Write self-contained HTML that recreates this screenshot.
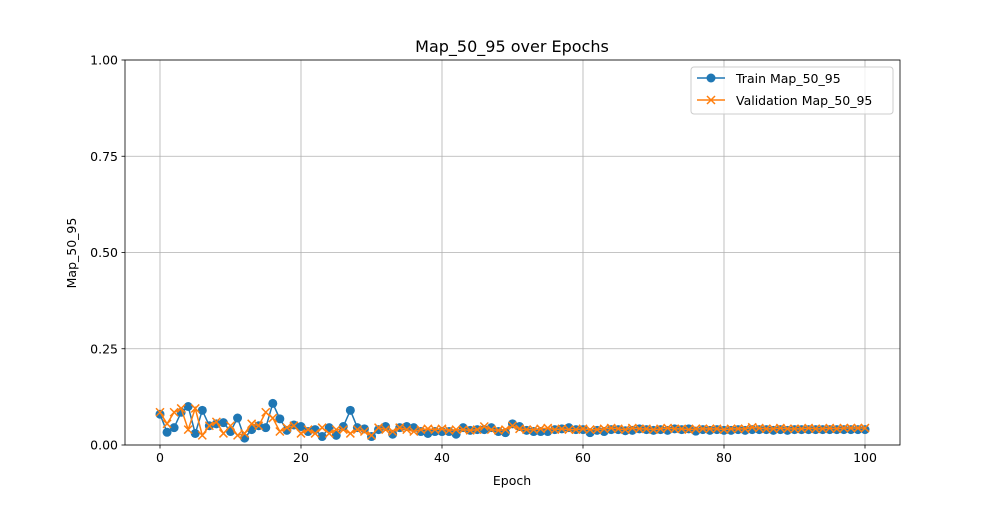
<!DOCTYPE html>
<html><head><meta charset="utf-8"><style>
body{margin:0;background:#fff;font-family:"Liberation Sans","DejaVu Sans",sans-serif;}
svg text{font-family:"DejaVu Sans","Liberation Sans",sans-serif;}
</style></head><body>
<svg id="chart" width="1000" height="500" xmlns="http://www.w3.org/2000/svg"></svg>
<script>
const epochs = Array.from({length:101},(_,i)=>i);
const trainMap = [0.080,0.033,0.045,0.085,0.100,0.030,0.090,0.050,0.055,0.058,0.035,0.070,0.018,0.040,0.050,0.045,0.108,0.068,0.038,0.052,0.048,0.035,0.040,0.022,0.045,0.025,0.048,0.090,0.045,0.042,0.022,0.040,0.048,0.028,0.045,0.048,0.045,0.035,0.030,0.035,0.035,0.035,0.028,0.045,0.038,0.040,0.040,0.045,0.035,0.032,0.055,0.048,0.038,0.035,0.035,0.035,0.040,0.042,0.045,0.040,0.040,0.032,0.038,0.035,0.040,0.040,0.037,0.038,0.042,0.040,0.038,0.040,0.038,0.042,0.040,0.042,0.036,0.040,0.038,0.040,0.038,0.038,0.040,0.038,0.040,0.040,0.040,0.038,0.040,0.038,0.040,0.040,0.040,0.040,0.040,0.040,0.040,0.040,0.040,0.040,0.040];
const valMap = [0.085,0.055,0.085,0.095,0.040,0.095,0.025,0.050,0.060,0.030,0.050,0.025,0.030,0.055,0.050,0.085,0.070,0.035,0.045,0.050,0.030,0.040,0.030,0.045,0.030,0.040,0.040,0.030,0.040,0.035,0.025,0.045,0.040,0.035,0.045,0.040,0.035,0.040,0.042,0.040,0.042,0.038,0.040,0.040,0.038,0.040,0.048,0.040,0.038,0.040,0.050,0.042,0.040,0.040,0.042,0.044,0.040,0.042,0.040,0.040,0.042,0.040,0.040,0.042,0.044,0.042,0.040,0.044,0.042,0.042,0.040,0.042,0.044,0.042,0.042,0.040,0.042,0.042,0.042,0.042,0.040,0.042,0.042,0.042,0.046,0.044,0.042,0.042,0.044,0.042,0.042,0.042,0.044,0.042,0.042,0.044,0.042,0.044,0.044,0.044,0.044];
const xTicks = [0,20,40,60,80,100];
const yTicks = [0,0.25,0.5,0.75,1.0];
const yTickLabels = ["0.00","0.25","0.50","0.75","1.00"];

const L=125,R=900,T=60,B=445;
const sx=v=>160+(v-0)*(865-160)/100;
const sy=v=>B-(v-0)*(B-T)/1;
const NS="http://www.w3.org/2000/svg";
const svg=document.getElementById('chart');
function mk(tag,attrs,parent){const e=document.createElementNS(NS,tag);for(const k in attrs)e.setAttribute(k,attrs[k]);(parent||svg).appendChild(e);return e;}

// grid
xTicks.forEach(t=>{const l=mk('line',{x1:sx(t),x2:sx(t),y1:T,y2:B,stroke:'#b0b0b0','stroke-width':0.8});

});
yTicks.forEach(t=>{const l=mk('line',{x1:L,x2:R,y1:sy(t),y2:sy(t),stroke:'#b0b0b0','stroke-width':0.8});

});

// series
function series(vals,color,marker,name){
  const g=mk('g',{});
  
  
  const pts=vals.map((v,i)=>sx(epochs[i])+','+sy(v)).join(' ');
  mk('polyline',{points:pts,fill:'none',stroke:color,'stroke-width':1.5},g);
  vals.forEach((v,i)=>{
    const x=sx(epochs[i]),y=sy(v);let m;
    if(marker==='o'){m=mk('circle',{cx:x,cy:y,r:4.5,fill:color},g);}
    else{m=mk('path',{d:`M${x-4},${y-4}L${x+4},${y+4}M${x-4},${y+4}L${x+4},${y-4}`,stroke:color,'stroke-width':1.5},g);}
    
    
  });
}
series(trainMap,'#1f77b4','o','train-series');
series(valMap,'#ff7f0e','x','validation-series');

// axes frame
const fr=mk('rect',{x:L,y:T,width:R-L,height:B-T,fill:'none',stroke:'#000','stroke-width':0.8});



xTicks.forEach(t=>{
  mk('line',{x1:sx(t),x2:sx(t),y1:B,y2:B+3.5,stroke:'#000','stroke-width':0.8});
  const tx=mk('text',{x:sx(t),y:B+17,'text-anchor':'middle','font-size':12.5,fill:'#000'});tx.textContent=t;
  
  
});
yTicks.forEach((t,i)=>{
  mk('line',{x1:L-3.5,x2:L,y1:sy(t),y2:sy(t),stroke:'#000','stroke-width':0.8});
  const tx=mk('text',{x:L-7,y:sy(t)+4.5,'text-anchor':'end','font-size':12.5,fill:'#000'});tx.textContent=yTickLabels[i];
  
  
});
let t1=mk('text',{x:512,y:52,'text-anchor':'middle','font-size':16,fill:'#000'});t1.textContent='Map_50_95 over Epochs';


let t2=mk('text',{x:512,y:485,'text-anchor':'middle','font-size':12.5,fill:'#000'});t2.textContent='Epoch';


let t3=mk('text',{x:76,y:253,'text-anchor':'middle','font-size':12.5,fill:'#000',transform:'rotate(-90 76 253)'});t3.textContent='Map_50_95';



// legend
const lg=mk('g',{});


mk('rect',{x:691,y:67,width:202,height:47,rx:3,fill:'#fff','fill-opacity':0.8,stroke:'#ccc'},lg);
mk('line',{x1:697,x2:725,y1:78,y2:78,stroke:'#1f77b4','stroke-width':1.5},lg);
mk('circle',{cx:711,cy:78,r:4.5,fill:'#1f77b4'},lg);
let l1=mk('text',{x:736,y:83,'font-size':12.5,fill:'#000'},lg);l1.textContent='Train Map_50_95';


mk('line',{x1:697,x2:725,y1:100,y2:100,stroke:'#ff7f0e','stroke-width':1.5},lg);
mk('path',{d:'M707,96L715,104M707,104L715,96',stroke:'#ff7f0e','stroke-width':1.5},lg);
let l2=mk('text',{x:736,y:105,'font-size':12.5,fill:'#000'},lg);l2.textContent='Validation Map_50_95';


</script>
</body></html>
